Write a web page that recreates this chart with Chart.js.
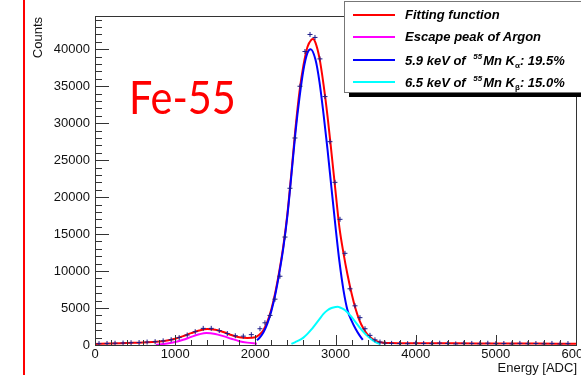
<!DOCTYPE html>
<html>
<head>
<meta charset="utf-8">
<script src="https://cdn.jsdelivr.net/npm/chart.js@4"></script>
<style>
  body { margin: 0; width: 581px; height: 375px; overflow: hidden; position: relative; background: #fff; font-family: "Liberation Sans", Arial, sans-serif; }
  #c { position: absolute; left: 0; top: 0; }
  #slideLine { position: absolute; left: 23px; top: 0; width: 2px; height: 375px; background: #ff0000; }
  #fe { position: absolute; left: 129px; top: 67px; color: #ff0000; font-family: Lato, "Open Sans", sans-serif; font-size: 46px; line-height: 60px; white-space: nowrap; transform: scaleX(0.9); transform-origin: 0 0; }
  #legend { position: absolute; left: 344px; top: 1px; width: 250px; height: 90px; background: #fff; border: 1px solid #777; box-shadow: 5px 4px 0 #000; }
  .entry { position: absolute; left: 0; height: 16px; white-space: nowrap; }
  .entry i { position: absolute; left: 8px; top: 7px; width: 42px; height: 2px; }
  .entry span { position: absolute; left: 60px; top: 0; font: italic bold 13px "Liberation Sans", Arial, sans-serif; color: #000; }
  .entry sup { font-size: 8px; vertical-align: 6px; margin: 0 1px 0 4px; }
  .entry sub { font-size: 8px; vertical-align: -3px; font-style: normal; }
</style>
</head>
<body>
<canvas id="c" width="581" height="375"></canvas>
<div id="slideLine"></div>
<div id="fe">Fe-55</div>
<div id="legend">
  <div class="entry" style="top:5px"><i style="background:#ff0000"></i><span>Fitting function</span></div>
  <div class="entry" style="top:27px"><i style="background:#ff00ff"></i><span>Escape peak of Argon</span></div>
  <div class="entry" style="top:50px"><i style="background:#0000ff"></i><span>5.9 keV of <sup>55</sup>Mn K<sub>α</sub>: 19.5%</span></div>
  <div class="entry" style="top:72px"><i style="background:#00ffff"></i><span>6.5 keV of <sup>55</sup>Mn K<sub>β</sub>: 15.0%</span></div>
</div>
<script>
// axis ticks
const xTickValues = [0, 1000, 2000, 3000, 4000, 5000, 6000]
const yTickValues = [0, 5000, 10000, 15000, 20000, 25000, 30000, 35000, 40000]

// fitting function (red)
const fitX = [0, 200, 400, 600, 800, 900, 1000, 1100, 1200, 1300, 1400, 1500, 1600, 1700, 1800, 1900, 2000,
    2050, 2100, 2150, 2200, 2250, 2300, 2350, 2400, 2450, 2500, 2550, 2600, 2650, 2700, 2720, 2750, 2800,
    2850, 2900, 2950, 3000, 3050, 3100, 3150, 3200, 3250, 3300, 3350, 3400, 3450, 3500, 3550, 3600, 3700,
    3800, 4000, 4500, 5000, 5500, 6000]
const fitY = [150, 200, 280, 350, 480, 600, 850, 1200, 1600, 1950, 2150, 2050, 1750, 1350, 1050, 950, 1050,
    1400, 2000, 3150, 4850, 7150, 10050, 13450, 17750, 23300, 29200, 34200, 37800, 40300, 41300, 41400, 40900, 38800,
    35300, 31000, 26000, 20800, 15800, 12400, 9500, 7000, 4900, 3300, 2200, 1400, 900, 550, 380, 300, 260,
    250, 240, 230, 200, 190, 180]

// escape peak of argon (magenta)
const escX = [760, 800, 900, 1000, 1100, 1200, 1300, 1390, 1500, 1600, 1700, 1800, 1900, 2000, 2020]
const escY = [30, 60, 200, 400, 700, 1100, 1450, 1620, 1500, 1200, 850, 520, 320, 200, 180]

// 5.9 keV Mn K-alpha (blue)
const kaX = [2020, 2050, 2100, 2150, 2200, 2250, 2300, 2350, 2400, 2450, 2500, 2550, 2600, 2650, 2690,
    2750, 2800, 2850, 2900, 2950, 3000, 3050, 3100, 3150, 3200, 3250, 3300, 3340]
const kaY = [650, 950, 1700, 2900, 4600, 6900, 9800, 13200, 17500, 23000, 28700, 33400, 37200, 39500, 40000,
    38600, 35600, 31300, 26500, 21200, 16000, 11200, 7400, 4700, 3300, 2200, 1300, 700]

// 6.5 keV Mn K-beta (cyan)
const kbX = [2450, 2500, 2550, 2600, 2650, 2700, 2750, 2800, 2850, 2900, 2950, 3000, 3030, 3050, 3100, 3150,
    3200, 3250, 3300, 3350, 3400, 3450, 3500, 3560]
const kbY = [150, 400, 650, 1000, 1500, 2100, 2800, 3500, 4200, 4700, 5000, 5150, 5170, 5100, 4850, 4400,
    3800, 3100, 2400, 1750, 1200, 750, 400, 100]

// measured histogram
const dataX = [50, 150, 250, 350, 450, 550, 650, 750, 850, 950, 1050, 1150, 1250, 1350, 1450, 1550, 1650, 1750,
    1850, 1950, 2058, 2120, 2183, 2245, 2307, 2370, 2432, 2494, 2557, 2619, 2682, 2744, 2806, 2869, 2931, 2993,
    3056, 3118, 3181, 3243, 3305, 3368, 3430, 3492, 3555, 3617, 3700, 3800, 3900, 4000, 4100, 4200, 4300, 4400,
    4500, 4600, 4700, 4800, 4900, 5000, 5100, 5200, 5300, 5400, 5500, 5600, 5700, 5800, 5900]
const dataY = [180, 210, 240, 270, 310, 330, 400, 450, 560, 720, 1000, 1350, 1800, 2250, 2250, 1950, 1550, 1250,
    1200, 1400, 2200, 3000, 4000, 6200, 9300, 14600, 21200, 28000, 35000, 39700, 42000, 41600, 38700, 33600, 27500, 22000,
    17000, 12400, 7600, 5300, 3700, 2200, 1300, 700, 400, 250, 220, 200, 180, 260, 210, 190, 250, 200,
    150, 230, 210, 170, 240, 190, 200, 160, 220, 180, 200, 170, 210, 150, 190]

const pts = (xs, ys) => xs.map((x, i) => ({ x, y: ys[i] }))
const curve = (label, xs, ys, color, order) => ({
    label, data: pts(xs, ys), showLine: true, borderColor: color, backgroundColor: color,
    borderWidth: 2, pointRadius: 0, cubicInterpolationMode: 'monotone', order
})

const tickFont = { family: '"Liberation Sans", Arial, sans-serif', size: 13 }

// ROOT-like frame with inward ticks and axis titles
const frame = {
    id: 'frame',
    afterDraw(chart) {
        const { ctx, chartArea: a, scales: { x, y } } = chart
        ctx.save()
        ctx.strokeStyle = '#333'
        ctx.lineWidth = 1
        ctx.strokeRect(a.left + 0.5, a.top + 0.5, a.right - a.left, a.bottom - a.top)
        ctx.beginPath()
        for (let v = 0; v <= 44000; v += 1000) {
            const py = Math.round(y.getPixelForValue(v)) + 0.5
            const len = v % 5000 === 0 ? 14 : 7
            ctx.moveTo(a.left, py); ctx.lineTo(a.left + len, py)
        }
        for (let v = 0; v <= 6000; v += 200) {
            const px = Math.round(x.getPixelForValue(v)) + 0.5
            const len = v % 1000 === 0 ? 10 : 5
            ctx.moveTo(px, a.bottom); ctx.lineTo(px, a.bottom - len)
        }
        ctx.stroke()
        ctx.fillStyle = '#111'
        ctx.font = '13px "Liberation Sans", Arial, sans-serif'
        ctx.textAlign = 'right'
        ctx.textBaseline = 'middle'
        ctx.fillText('Energy [ADC]', 577, 368)
        ctx.translate(38, 17)
        ctx.rotate(-Math.PI / 2)
        ctx.fillText('Counts', 0, 0)
        ctx.restore()
    }
}

new Chart(document.getElementById('c'), {
    type: 'scatter',
    data: {
        datasets: [
            {
                label: 'data', data: pts(dataX, dataY), pointStyle: 'cross', pointRadius: 2.5,
                borderColor: '#1b1b8a', borderWidth: 1, showLine: false, order: 0
            },
            curve('6.5 keV', kbX, kbY, '#00ffff', 1),
            curve('5.9 keV', kaX, kaY, '#0000ff', 2),
            curve('Escape peak of Argon', escX, escY, '#ff00ff', 3),
            curve('Fitting function', fitX, fitY, '#ff0000', 4)
        ]
    },
    options: {
        responsive: false,
        animation: false,
        layout: { padding: { left: 0, top: 16, right: 5, bottom: 0 } },
        plugins: { legend: { display: false }, tooltip: { enabled: false } },
        scales: {
            x: {
                type: 'linear', min: 0, max: 6000,
                grid: { display: false, drawTicks: false },
                border: { display: false },
                afterBuildTicks: s => { s.ticks = xTickValues.map(value => ({ value })) },
                afterFit: s => { s.height = 30; s.paddingLeft = 0; s.paddingRight = 0 },
                ticks: { color: '#111', font: tickFont, padding: 2, maxRotation: 0, autoSkip: false, callback: v => String(v) }
            },
            y: {
                type: 'linear', min: 0, max: 44500,
                grid: { display: false, drawTicks: false },
                border: { display: false },
                afterBuildTicks: s => { s.ticks = yTickValues.map(value => ({ value })) },
                afterFit: s => { s.width = 95; s.paddingTop = 0; s.paddingBottom = 0 },
                ticks: { color: '#111', font: tickFont, padding: 5, autoSkip: false, callback: v => String(v) }
            }
        }
    },
    plugins: [frame]
})
</script>
</body>
</html>
